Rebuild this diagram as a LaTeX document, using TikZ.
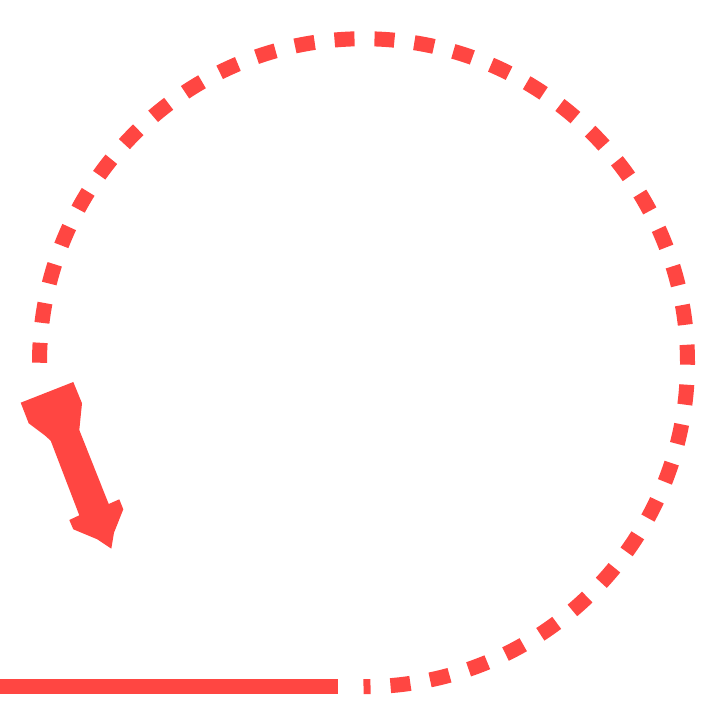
\documentclass[tikz,border=0pt]{standalone}
\definecolor{redc}{RGB}{255,70,66}
\begin{document}
\begin{tikzpicture}[x=1pt,y=1pt,
  stroke/.style={draw=redc,line width=15pt,line cap=butt},
  dashring/.style={stroke,dash pattern=on 20pt off 20pt}]
\useasboundingbox (0,0) rectangle (701,701);
\coordinate (c) at (363.5,338.25);
\coordinate (arcstart) at (39.5,338.25);
\coordinate (l0) at (0,14.5);
\coordinate (l1) at (338,14.5);
\draw[stroke] (l0) -- (l1);
\draw[dashring] (arcstart) arc[start angle=180,end angle=-90,radius=324];
\fill[redc] (20.7,298.3) -- (73.3,319) -- (82,297.7) -- (79.3,271) -- (108.7,197)
  -- (119.3,201.7) -- (123.3,191.7) -- (114,168.3) -- (111.3,152.3) -- (97.3,161.7)
  -- (73.3,171.7) -- (69.3,181) -- (79.3,185.7) -- (50.7,260.3) -- (44.7,265.7)
  -- (28.7,277.7) -- cycle;
\end{tikzpicture}
\end{document}
